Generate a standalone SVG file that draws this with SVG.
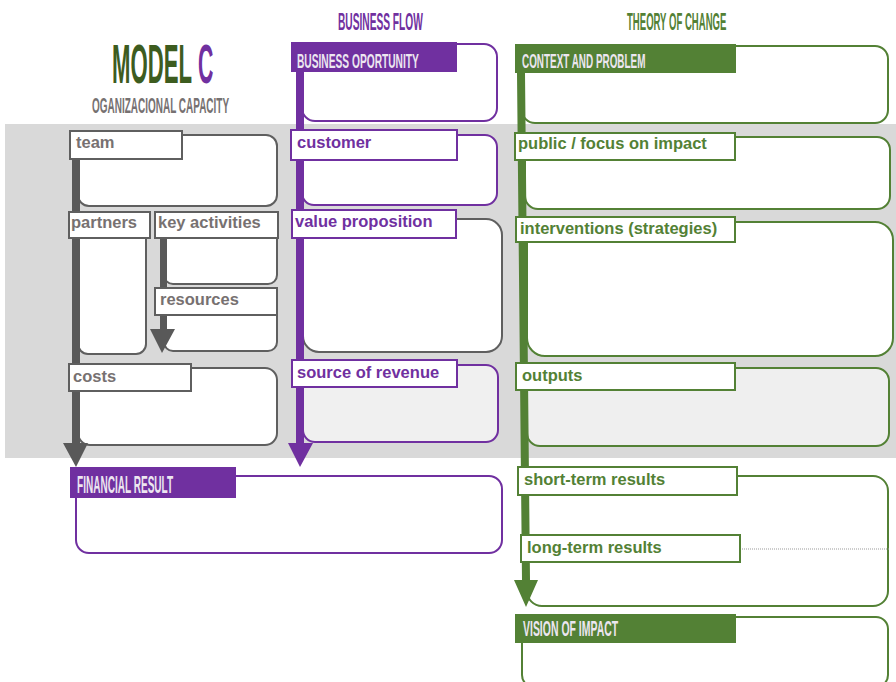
<svg xmlns="http://www.w3.org/2000/svg" width="896" height="682" viewBox="0 0 896 682">
<style>
.body{fill:#fff;stroke-width:2}
.g{stroke:#5f5f5f}.p{stroke:#7030a0}.gr{stroke:#538135}
.lab{fill:#fff;stroke-width:2}
.lt{font-family:"Liberation Sans",Arial,sans-serif;font-weight:bold;font-size:16.5px}
.tg{fill:#777171}.tp{fill:#7030a0}.tgr{fill:#538135}
.hd{font-family:"Liberation Sans",Arial,sans-serif;font-weight:bold;fill:#ece6f0}
.ttl{font-family:"Liberation Sans",Arial,sans-serif;font-weight:bold}
</style>
<rect x="5" y="124" width="891" height="334" fill="#d9d9d9"/>
<g id="title">
<text class="ttl" transform="translate(112 83) scale(0.396 1)" font-size="56" fill="#3d5c1f">MODEL</text>
<text class="ttl" transform="translate(198 83) scale(0.38 1)" font-size="56" fill="#7030a0">C</text>
<text class="ttl" transform="translate(92 113) scale(0.434 1)" font-size="23" fill="#767171">OGANIZACIONAL CAPACITY</text>
<text class="ttl" transform="translate(338 30) scale(0.443 1)" font-size="23" fill="#7030a0">BUSINESS FLOW</text>
<text class="ttl" transform="translate(627 30) scale(0.416 1)" font-size="23" fill="#538135">THEORY OF CHANGE</text>
</g>
<g id="bodies">
<rect class="body g" x="78" y="135" width="199" height="71" rx="11"/>
<rect class="body g" x="78" y="215" width="68" height="139" rx="10"/>
<rect class="body g" x="164" y="225" width="113" height="59" rx="9"/>
<rect class="body g" x="164" y="300" width="113" height="51" rx="9"/>
<rect class="body g" x="78" y="368" width="199" height="77" rx="12"/>
<rect class="body p" x="302" y="44" width="195" height="77" rx="13"/>
<rect class="body p" x="302" y="135" width="195" height="70" rx="12"/>
<rect class="body g" x="303" y="219" width="199" height="133" rx="16"/>
<rect class="body p" x="303" y="365" width="195" height="77" rx="12" style="fill:#f0f0f0"/>
<rect class="body p" x="76" y="476" width="426" height="77" rx="13"/>
<rect class="body gr" x="522" y="46" width="366" height="77" rx="13"/>
<rect class="body gr" x="525" y="137" width="365" height="72" rx="13"/>
<rect class="body gr" x="527" y="222" width="366" height="134" rx="18"/>
<rect class="body gr" x="527" y="368" width="362" height="78" rx="13" style="fill:#efefef"/>
<rect class="body gr" x="527" y="476" width="361" height="130" rx="15"/>
<rect class="body gr" x="522" y="617" width="366" height="70" rx="12"/>
</g>
<g id="connectors">
<path d="M72 159 H80 V443 H88 L76 467 L63 443 H72 Z" fill="#595959"/>
<path d="M160 238 H167 V329 H175 L162 353 L150 329 H160 Z" fill="#595959"/>
<path d="M296 72 H304 V443 H313 L300 467 L288 443 H296 Z" fill="#7030a0"/>
<path d="M517 73 H525 L530 580 H538 L526 607 L514 580 H522 Z" fill="#538135"/>
<line x1="740" y1="549" x2="889" y2="549" stroke="#999" stroke-width="1" stroke-dasharray="1 1"/>
</g>
<g id="n-team"><rect class="lab g" x="70" y="131" width="112" height="28"/><text class="lt tg" x="76" y="148">team</text></g>
<g id="n-partners"><rect class="lab g" x="69" y="212" width="81" height="26"/><text class="lt tg" x="71" y="228">partners</text></g>
<g id="n-keyactivities"><rect class="lab g" x="155" y="212" width="123" height="26"/><text class="lt tg" x="158" y="228" font-size="14">key activities</text></g>
<g id="n-resources"><rect class="lab g" x="155" y="288" width="122" height="27"/><text class="lt tg" x="160" y="305">resources</text></g>
<g id="n-costs"><rect class="lab g" x="69" y="364" width="122" height="27"/><text class="lt tg" x="73" y="382">costs</text></g>
<g id="n-bizopp"><rect x="291" y="42" width="166" height="30" fill="#7030a0"/><text class="hd" transform="translate(297 68) scale(0.486 1)" font-size="21">BUSINESS OPORTUNITY</text></g>
<g id="n-customer"><rect class="lab p" x="291" y="130" width="166" height="30"/><text class="lt tp" x="297" y="148">customer</text></g>
<g id="n-valueprop"><rect class="lab p" x="292" y="210" width="164" height="28"/><text class="lt tp" x="295" y="227">value proposition</text></g>
<g id="n-revenue"><rect class="lab p" x="292" y="360" width="165" height="27"/><text class="lt tp" x="297" y="378">source of revenue</text></g>
<g id="n-financial"><rect x="70" y="467" width="166" height="31" fill="#7030a0"/><text class="hd" transform="translate(77 493) scale(0.437 1)" font-size="23">FINANCIAL RESULT</text></g>
<g id="n-context"><rect x="515" y="44" width="221" height="29" fill="#538135"/><text class="hd" transform="translate(522 68) scale(0.472 1)" font-size="21">CONTEXT AND PROBLEM</text></g>
<g id="n-public"><rect class="lab gr" x="515" y="133" width="220" height="27"/><text class="lt tgr" x="518" y="149">public / focus on impact</text></g>
<g id="n-interventions"><rect class="lab gr" x="516" y="217" width="219" height="25"/><text class="lt tgr" x="520" y="234">interventions (strategies)</text></g>
<g id="n-outputs"><rect class="lab gr" x="516" y="363" width="219" height="27"/><text class="lt tgr" x="522" y="381">outputs</text></g>
<g id="n-short"><rect class="lab gr" x="518" y="467" width="219" height="28"/><text class="lt tgr" x="524" y="485">short-term results</text></g>
<g id="n-long"><rect class="lab gr" x="521" y="535" width="219" height="27"/><text class="lt tgr" x="527" y="553">long-term results</text></g>
<g id="n-vision"><rect x="515" y="614" width="221" height="29" fill="#538135"/><text class="hd" transform="translate(523 636) scale(0.476 1)" font-size="22">VISION OF IMPACT</text></g>
</svg>
